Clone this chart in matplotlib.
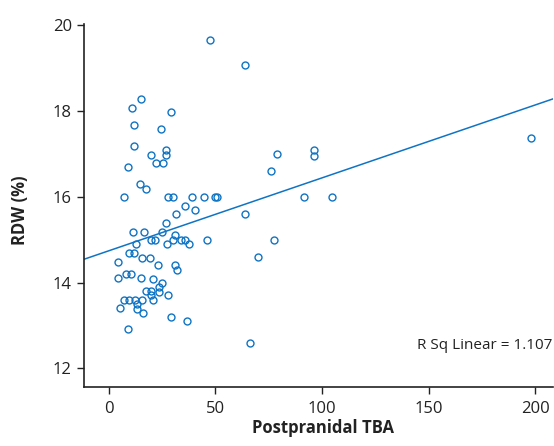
import matplotlib
matplotlib.use("Agg")
import matplotlib.pyplot as plt
import numpy as np

# Data (Postprandial TBA vs RDW %)
tba = [47.6, 63.9, 15.0, 11.1, 29.2, 11.7, 24.5, 11.9, 26.9, 26.9,
       19.7, 9.2, 22.0, 25.3, 14.8, 17.5, 7.2, 27.9, 30.3, 39.1,
       44.7, 49.8, 51.0, 35.8, 40.6, 31.7, 63.9, 27.0, 78.8, 76.1,
       96.4, 96.4, 91.7, 104.5, 198.1,
       11.5, 16.5, 25.1, 30.9, 12.7, 19.7, 21.6, 27.2, 30.0, 33.7,
       35.8, 37.5, 46.2, 77.5, 9.7, 12.0, 4.5, 15.6, 19.2, 23.1,
       30.9, 31.9, 70.1, 8.1, 10.3, 4.5, 15.0, 20.6, 25.1, 23.7,
       17.3, 19.7, 23.7, 19.8, 27.9, 7.3, 9.5, 12.3, 15.8, 20.6,
       13.4, 13.4, 5.3, 15.9, 29.3, 36.5, 9.2, 66.2]
rdw = [19.66, 19.07, 18.27, 18.07, 17.98, 17.68, 17.58, 17.19, 17.09, 16.98,
       16.97, 16.69, 16.78, 16.78, 16.29, 16.18, 15.99, 15.99, 15.99, 15.99,
       15.99, 15.99, 15.99, 15.79, 15.69, 15.59, 15.59, 15.39, 16.99, 16.59,
       17.10, 16.96, 15.99, 15.99, 17.38,
       15.19, 15.19, 15.19, 15.10, 14.89, 15.00, 15.00, 14.90, 15.00, 15.00,
       15.00, 14.90, 15.00, 15.00, 14.70, 14.70, 14.49, 14.58, 14.58, 14.41,
       14.40, 14.29, 14.59, 14.20, 14.20, 14.10, 14.10, 14.09, 14.00, 13.89,
       13.80, 13.80, 13.78, 13.70, 13.70, 13.60, 13.60, 13.60, 13.60, 13.59,
       13.50, 13.39, 13.40, 13.29, 13.20, 13.10, 12.91, 12.60]

# Fit line as shown in the chart
fit_intercept = 14.74
fit_slope = 0.0170

x_ticks = [0, 50, 100, 150, 200]
y_ticks = [12, 14, 16, 18, 20]
r_sq_text = "R Sq Linear = 1.107"

blue = "#0f74c4"
dark = '#222222'
plt.rcParams['font.family'] = ['Open Sans', 'DejaVu Sans']

W, H = 554, 446
fig = plt.figure(figsize=(W / 100, H / 100), dpi=100)
ax = fig.add_axes([0.1522, 0.1316, 0.846, 0.814])

xlim = (-11.4, 208.3)
ylim = (11.56, 20.02)

ax.plot(tba, rdw, linestyle='none', marker='o', markersize=5,
        markerfacecolor='none', markeredgecolor=blue, markeredgewidth=1.0,
        clip_on=False)

lx = np.array(xlim)
ax.plot(lx, fit_intercept + fit_slope * lx, color=blue, linewidth=1.1)

ax.set_xlim(*xlim)
ax.set_ylim(*ylim)
ax.set_xticks(x_ticks)
ax.set_yticks(y_ticks)

for s in ['top', 'right']:
    ax.spines[s].set_visible(False)
for s in ['left', 'bottom']:
    ax.spines[s].set_color(dark)
    ax.spines[s].set_linewidth(1.2)

ax.tick_params(direction='out', length=5, width=1.0, color=dark,
               labelsize=12, labelcolor=dark)
ax.tick_params(axis='y', pad=4)
ax.tick_params(axis='x', pad=5)

fig.text(323 / W, 1 - 428 / H, "Postpranidal TBA", fontsize=12,
         fontweight='bold', color=dark, ha='center', va='center')
fig.text(20 / W, 1 - 210 / H, "RDW (%)", fontsize=12, fontweight='bold',
         color=dark, ha='center', va='center', rotation=90)

ax.text(0.998, 0.116, r_sq_text, transform=ax.transAxes, ha='right',
        va='center', fontsize=11, color=dark)

fig.savefig("out.png", dpi=100)
